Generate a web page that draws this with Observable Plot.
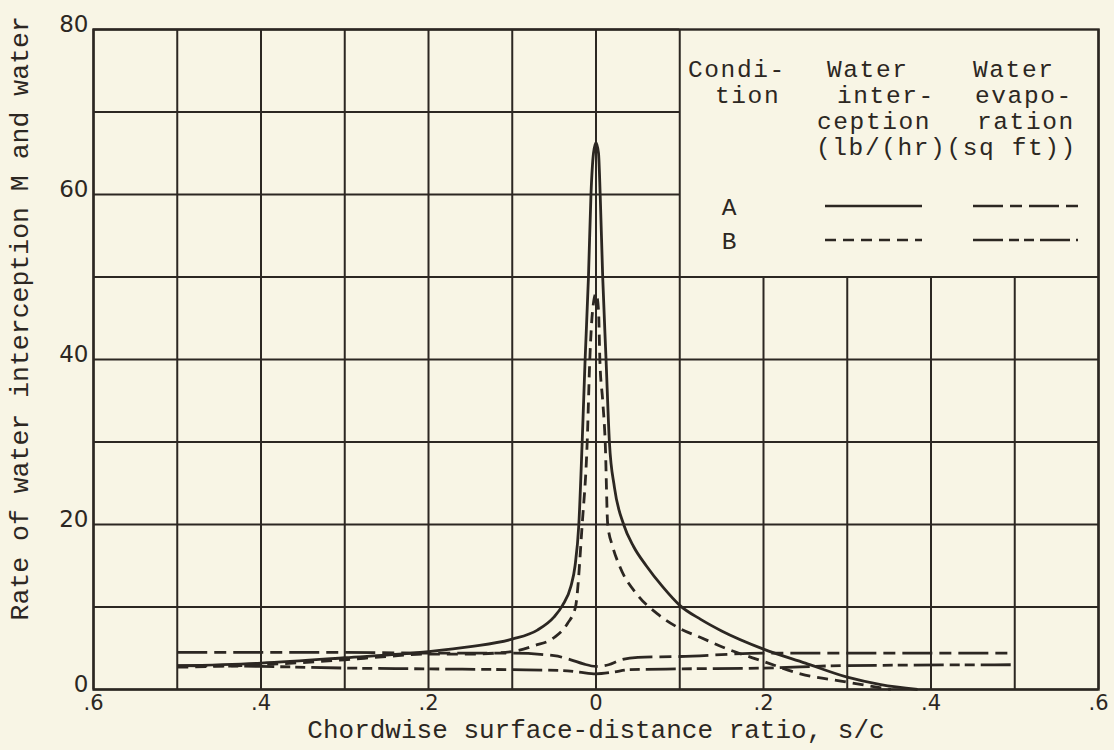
<!DOCTYPE html>
<html><head><meta charset="utf-8">
<script src="https://cdn.jsdelivr.net/npm/d3@7"></script>
<script src="https://cdn.jsdelivr.net/npm/@observablehq/plot@0.6"></script>
<style>
html,body{margin:0;padding:0;background:#f8f5e5;}
#chart{position:relative;width:1114px;height:750px;}
</style></head><body><div id="chart"></div>
<script>
// ---- data (s/c, rate) ----
const sIntA = [-0.5,-0.4,-0.3,-0.2,-0.15,-0.1,-0.07,-0.05,-0.04,-0.03,-0.025,-0.0205,-0.0165,-0.013,-0.009,-0.006,-0.003,0,0.003,0.005,0.008,0.012,0.016,0.022,0.033,0.045,0.06,0.08,0.1,0.125,0.15,0.2,0.25,0.3,0.34,0.384];
const vIntA = [2.85,3.2,3.85,4.6,5.2,6.1,7.2,8.8,10.2,12.5,15,20,30,40,50,60,65,66.3,65,60,50,40,30,24.5,20,17.3,15.0,12.4,10.2,8.5,7.1,4.9,3.2,1.5,0.6,0];
const sIntB = [-0.5,-0.4,-0.3,-0.25,-0.2,-0.15,-0.1,-0.074,-0.05,-0.034,-0.0245,-0.0165,-0.0105,-0.0074,-0.004,0,0.003,0.0046,0.008,0.011,0.014,0.02,0.028,0.05,0.073,0.1,0.125,0.157,0.2,0.244,0.3,0.352];
const vIntB = [2.7,3.0,3.6,4.0,4.3,4.3,4.6,5.3,6.3,8.0,10,20,30,40,46,48,46,40,35,30,20,17.3,15,11.4,9.2,7.4,6.3,4.9,3.4,1.9,0.9,0];
const sEvA = [-0.5,-0.3,-0.2,-0.1,-0.05,-0.03,-0.015,0,0.015,0.03,0.05,0.1,0.2,0.3,0.5];
const vEvA = [4.5,4.5,4.4,4.4,4.1,3.6,3.1,2.8,3.0,3.6,3.9,4.0,4.4,4.4,4.4];
const sEvB = [-0.5,-0.4,-0.3,-0.2,-0.1,-0.04,-0.02,0,0.02,0.04,0.1,0.2,0.3,0.5];
const vEvB = [2.9,2.8,2.6,2.5,2.4,2.3,2.1,1.9,2.1,2.4,2.5,2.6,2.9,3.0];

const xGrid = [-0.6,-0.5,-0.4,-0.3,-0.2,-0.1,0,0.1,0.2,0.3,0.4,0.5,0.6];
const yGrid = [0,10,20,30,40,50,60,70,80];
const xTicks = [-0.6,-0.4,-0.2,0,0.2,0.4,0.6];
const yTicks = [0,20,40,60,80];
const xLabel = "Chordwise surface-distance ratio, s/c";
const yLabel = "Rate of water interception M and water";
const conditions = ["A","B"];
const headCondition = ["Condi-","tion"];
const headInterception = ["Water","inter-","ception","(lb/(hr)(sq ft))"];
const headEvaporation = ["Water","evapo-","ration"];

// ---- styling ----
const ink = "#2c2722";
const mono = "'Liberation Mono','DejaVu Sans Mono',monospace";
const sans = "'DejaVu Sans',sans-serif";
const boxX = 0.1, boxY = 50; // legend panel corner (grid is blanked above/right)

const dashes = {
  intA: null, intB: "11,7",
  evA: "30,7,12,7", evB: "30,6,10,5,10,6"
};

const toRows = (s, v) => s.map((x, i) => ({s: x, v: v[i]}));
const intA = toRows(sIntA, vIntA), intB = toRows(sIntB, vIntB);
const evA = toRows(sEvA, vEvA), evB = toRows(sEvB, vEvB);

const vRules = xGrid.map(x => ({x, y2: (x > boxX + 1e-9 && x < 0.6 - 1e-9) ? boxY : 80}));
const hRules = yGrid.map(y => ({y, x2: y > boxY ? boxX : 0.6}));

const lineOpts = (dash) => ({x: "s", y: "v", stroke: ink, strokeWidth: 2.8, curve: "monotone-x",
  strokeDasharray: dash || undefined, strokeLinecap: "butt"});

const plot = Plot.plot({
  width: 1114, height: 750,
  marginLeft: 93, marginRight: 16, marginTop: 29, marginBottom: 61,
  style: {background: "transparent", color: ink, fontFamily: sans, overflow: "visible"},
  x: {domain: [-0.6, 0.6]},
  y: {domain: [0, 80]},
  marks: [
    Plot.ruleX(vRules, {x: "x", y1: 0, y2: "y2", stroke: ink, strokeWidth: 2}),
    Plot.ruleY(hRules, {y: "y", x1: -0.6, x2: "x2", stroke: ink, strokeWidth: 2}),
    Plot.frame({stroke: ink, strokeWidth: 2.4}),
    Plot.axisX({ticks: xTicks, tickSize: 0, tickPadding: 6, fontSize: 21, label: null,
      tickFormat: d => d === 0 ? "0" : "." + Math.round(Math.abs(d) * 10)}),
    Plot.axisY({ticks: yTicks, tickSize: 0, tickPadding: 5, fontSize: 23, dy: -5, label: null}),
    Plot.line(evB, lineOpts(dashes.evB)),
    Plot.line(evA, lineOpts(dashes.evA)),
    Plot.line(intB, lineOpts(dashes.intB)),
    Plot.line(intA, lineOpts(dashes.intA)),
    Plot.text([xLabel], {frameAnchor: "bottom", dy: 48, fontFamily: mono, fontSize: 26, fill: ink}),
    Plot.text([yLabel], {frameAnchor: "bottom-left", dx: -66, dy: -69, rotate: -90, textAnchor: "start",
      fontFamily: mono, fontSize: 26.5, fill: ink})
  ]
});
document.getElementById("chart").appendChild(plot);

// ---- legend panel (top-right, inside the blank box) ----
const svg = d3.select(plot);
const lg = svg.append("g").attr("fill", ink).attr("font-family", mono).attr("font-size", 24.5)
  .attr("letter-spacing", 1.6).attr("text-anchor", "start");
const rowH = 26, rowTop = 77;
headCondition.forEach((t, i) => lg.append("text").attr("x", i ? 715 : 688).attr("y", rowTop + i * rowH).text(t));
headInterception.forEach((t, i) => lg.append("text").attr("x", [827, 837, 817, 816][i]).attr("y", rowTop + i * rowH).text(t));
headEvaporation.forEach((t, i) => lg.append("text").attr("x", [973, 975, 977][i]).attr("y", rowTop + i * rowH).text(t));
const legendRows = [
  {c: conditions[0], int: dashes.intA, ev: dashes.evA, y: 206},
  {c: conditions[1], int: dashes.intB, ev: dashes.evB, y: 240}
];
legendRows.forEach(r => {
  lg.append("text").attr("x", 730).attr("y", r.y + 9).attr("text-anchor", "middle").text(r.c);
  [[825, 922, r.int], [973, 1078, r.ev]].forEach(([x1, x2, d]) => {
    lg.append("line").attr("x1", x1).attr("x2", x2).attr("y1", r.y).attr("y2", r.y)
      .attr("stroke", ink).attr("stroke-width", 2.5).attr("stroke-dasharray", d || null);
  });
});
</script></body></html>
